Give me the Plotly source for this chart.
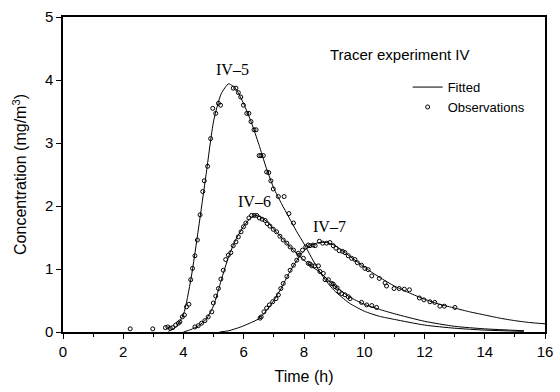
import plotly.graph_objects as go

# ---------------- data ----------------
fit5_t = [3.5, 3.75, 4.0, 4.25, 4.5, 4.75, 5.0, 5.25, 5.5, 5.75, 6.0, 6.25, 6.5, 6.75, 7.0,
          7.25, 7.5, 7.75, 8.0, 8.25, 8.5, 8.75, 9.0, 9.5, 10.0, 10.5, 11.0, 12.0, 13.0, 14.0, 15.3]
fit5_c = [0.01, 0.08, 0.28, 0.85, 1.65, 2.5, 3.35, 3.78, 3.94, 3.85, 3.62, 3.33, 2.98, 2.6, 2.28,
          2.04, 1.82, 1.6, 1.40, 1.18, 0.97, 0.8, 0.66, 0.46, 0.33, 0.25, 0.2, 0.11, 0.06, 0.03, 0.01]

fit6_t = [4.0, 4.25, 4.5, 4.75, 5.0, 5.25, 5.5, 5.75, 6.0, 6.25, 6.4, 6.5, 6.75, 7.0, 7.25, 7.5,
          7.75, 8.0, 8.25, 8.5, 8.75, 9.0, 9.5, 10.0, 10.5, 11.0, 12.0, 13.0, 14.0, 15.3]
fit6_c = [0.0, 0.04, 0.1, 0.2, 0.42, 0.82, 1.2, 1.48, 1.68, 1.82, 1.85, 1.84, 1.76, 1.63, 1.5, 1.37,
          1.25, 1.14, 1.04, 0.96, 0.85, 0.74, 0.56, 0.44, 0.36, 0.29, 0.17, 0.09, 0.05, 0.02]

fit7_t = [5.2, 5.5, 5.9, 6.2, 6.5, 6.75, 7.0, 7.25, 7.5, 7.75, 8.0, 8.25, 8.5, 8.75, 9.0, 9.25,
          9.5, 9.75, 10.0, 10.5, 11.0, 11.5, 12.0, 12.5, 13.0, 13.5, 14.0, 14.5, 15.0, 15.5, 16.0]
fit7_c = [0.0, 0.02, 0.08, 0.14, 0.21, 0.34, 0.5, 0.7, 0.93, 1.13, 1.29, 1.38, 1.42, 1.42, 1.38, 1.3,
          1.21, 1.12, 1.03, 0.87, 0.73, 0.62, 0.52, 0.44, 0.38, 0.32, 0.27, 0.22, 0.18, 0.15, 0.13]

obs5_t = [2.23, 2.98, 3.40, 3.48, 3.56, 3.64, 3.74, 3.83, 3.88, 3.96, 4.03, 4.10, 4.18, 4.24, 4.30,
          4.38, 4.46, 4.55, 4.64, 4.69, 4.80, 4.90, 4.97, 5.07, 5.16, 5.23, 5.65, 5.74, 5.82, 5.90,
          5.99, 6.10, 6.17, 6.24, 6.34, 6.41, 6.51, 6.57, 6.65, 6.76, 6.83, 6.90, 6.98, 7.15, 7.34,
          7.50, 7.65, 8.20, 8.36, 8.53, 8.70, 8.92, 9.03, 9.17, 9.36, 9.53]
obs5_c = [0.05, 0.05, 0.07, 0.08, 0.06, 0.07, 0.11, 0.14, 0.16, 0.24, 0.27, 0.40, 0.44, 0.83, 1.01,
          1.21, 1.46, 1.86, 2.23, 2.40, 2.63, 3.07, 3.55, 3.47, 3.63, 3.60, 3.87, 3.87, 3.80, 3.73,
          3.60, 3.47, 3.47, 3.34, 3.21, 3.21, 2.80, 2.80, 2.80, 2.54, 2.53, 2.40, 2.27, 2.15, 2.15,
          1.88, 1.73, 1.08, 1.05, 0.96, 0.83, 0.77, 0.72, 0.64, 0.59, 0.53]

obs6_t = [4.38, 4.49, 4.60, 4.71, 4.82, 4.94, 4.99, 5.07, 5.16, 5.24, 5.32, 5.40, 5.49, 5.57, 5.65,
          5.74, 5.82, 5.91, 5.99, 6.07, 6.17, 6.26, 6.35, 6.43, 6.52, 6.61, 6.71, 6.78, 6.87, 6.98,
          7.09, 7.20, 7.31, 7.43, 7.54, 7.65, 7.81, 7.98, 8.14, 8.26, 8.48, 8.64, 8.81, 8.97, 9.10,
          9.25, 9.47, 9.91, 10.08, 10.25, 10.41]
obs6_c = [0.08, 0.10, 0.14, 0.18, 0.24, 0.32, 0.46, 0.57, 0.69, 0.84, 0.98, 1.15, 1.22, 1.26, 1.37,
          1.43, 1.51, 1.59, 1.67, 1.73, 1.81, 1.85, 1.85, 1.85, 1.81, 1.79, 1.77, 1.72, 1.68, 1.63,
          1.59, 1.52, 1.46, 1.41, 1.35, 1.30, 1.25, 1.17, 1.09, 1.05, 1.05, 0.93, 0.83, 0.76, 0.70,
          0.61, 0.56, 0.47, 0.43, 0.42, 0.39]

obs7_t = [6.54, 6.58, 6.67, 6.76, 6.85, 6.96, 7.07, 7.15, 7.23, 7.31, 7.43, 7.54, 7.65, 7.76, 7.84,
          7.95, 8.06, 8.14, 8.20, 8.30, 8.37, 8.51, 8.62, 8.75, 8.86, 8.97, 9.06, 9.17, 9.28, 9.36,
          9.47, 9.58, 9.69, 9.77, 9.91, 10.02, 10.13, 10.25, 10.50, 10.69, 10.74, 10.99, 11.16, 11.33,
          11.50, 11.83, 11.98, 12.18, 12.34, 12.51, 12.66, 13.01]
obs7_c = [0.22, 0.24, 0.32, 0.38, 0.43, 0.48, 0.53, 0.59, 0.69, 0.77, 0.88, 0.98, 1.06, 1.14, 1.22,
          1.30, 1.35, 1.38, 1.37, 1.38, 1.37, 1.44, 1.41, 1.41, 1.42, 1.37, 1.33, 1.29, 1.28, 1.26,
          1.21, 1.17, 1.15, 1.10, 1.06, 1.01, 0.99, 0.89, 0.85, 0.78, 0.73, 0.69, 0.69, 0.68,
          0.67, 0.54, 0.51, 0.48, 0.47, 0.41, 0.41, 0.39]

labels = ["IV\u20135", "IV\u20136", "IV\u20137"]
label_t = [5.64, 6.37, 8.86]
label_c = [4.16, 2.07, 1.67]

x_ticks = [0, 2, 4, 6, 8, 10, 12, 14, 16]
y_ticks = [0, 1, 2, 3, 4, 5]

# ---------------- figure ----------------
fig = go.Figure()
line_style = dict(color="black", width=1, shape="spline", smoothing=0.6)
marker_style = dict(symbol="circle-open", size=4, color="black", line=dict(width=1, color="black"))

fits = [(fit5_t, fit5_c), (fit6_t, fit6_c), (fit7_t, fit7_c)]
obs = [(obs5_t, obs5_c), (obs6_t, obs6_c), (obs7_t, obs7_c)]

for i, (t, c) in enumerate(fits):
    fig.add_trace(go.Scatter(x=t, y=c, mode="lines", line=line_style,
                             name="Fitted", showlegend=(i == 0), legendrank=1))
for i, (t, c) in enumerate(obs):
    fig.add_trace(go.Scatter(x=t, y=c, mode="markers", marker=marker_style,
                             name="Observations", showlegend=(i == 0), legendrank=2))

for txt, t, c in zip(labels, label_t, label_c):
    fig.add_annotation(x=t, y=c, text=txt, showarrow=False,
                       font=dict(family="Liberation Serif", size=16, color="black"))

fig.add_annotation(x=0.549, y=0.882, xref="paper", yref="paper", xanchor="left", yanchor="middle",
                   text="Tracer experiment IV", showarrow=False,
                   font=dict(family="Liberation Sans", size=15, color="black"))

axis_common = dict(showline=True, linecolor="black", linewidth=1.5, mirror=True,
                   ticks="outside", tickcolor="black", ticklen=5, tickwidth=1,
                   showgrid=False, zeroline=False, automargin=False,
                   tickfont=dict(family="Liberation Sans", size=15, color="black"))

fig.update_xaxes(range=[0, 16], tickvals=x_ticks,
                 minor=dict(dtick=1, ticks="outside", ticklen=3, tickcolor="black"),
                 title=dict(text="Time (h)", font=dict(family="Liberation Sans", size=16, color="black"),
                            standoff=12),
                 **axis_common)
fig.update_yaxes(range=[0, 5], tickvals=y_ticks,
                 title=dict(text="Concentration (mg/m<sup>3</sup>)",
                            font=dict(family="Liberation Sans", size=16, color="black"), standoff=14),
                 **axis_common)

fig.update_layout(width=560, height=392, margin=dict(l=63, r=15, t=17, b=60),
                  plot_bgcolor="white", paper_bgcolor="white",
                  legend=dict(x=0.715, y=0.825, xanchor="left", yanchor="top",
                              bgcolor="rgba(0,0,0,0)", borderwidth=0,
                              font=dict(family="Liberation Sans", size=13, color="black"),
                              tracegroupgap=0, itemwidth=30))

fig.write_html("out.html")
